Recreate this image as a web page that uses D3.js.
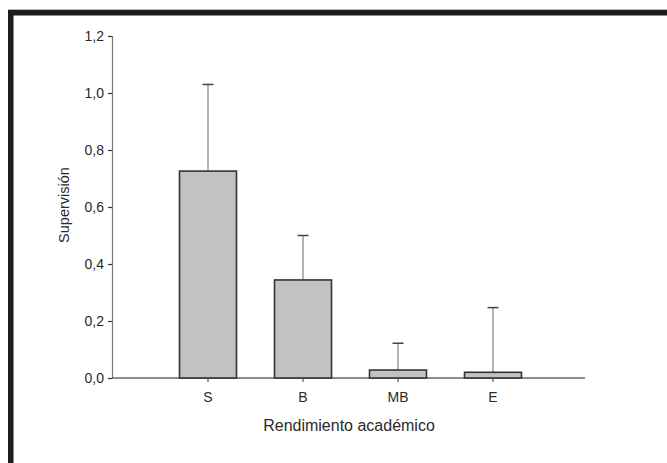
<!DOCTYPE html>
<html><head><meta charset="utf-8">
<script src="https://cdn.jsdelivr.net/npm/d3@7"></script>
<style>
html,body{margin:0;padding:0;background:#fff;}
svg{display:block;font-family:Arial,"Liberation Sans",Helvetica,sans-serif;}
</style></head>
<body>
<svg id="chart" width="667" height="463"></svg>
<script>
const categories = ["S", "B", "MB", "E"];
const means = [0.726, 0.344, 0.028, 0.020];
const upperErrors = [1.03, 0.50, 0.122, 0.247];
const yTicks = [0, 0.2, 0.4, 0.6, 0.8, 1.0, 1.2];
const yTitle = "Supervisión";
const xTitle = "Rendimiento académico";

const svg = d3.select("#chart");

// frame
svg.append("rect").attr("x", 10.75).attr("y", 12.75).attr("width", 700).attr("height", 500)
  .attr("fill", "none").attr("stroke", "#1e1c1c").attr("stroke-width", 5.5);
svg.append("line").attr("x1", 8).attr("x2", 667).attr("y1", 9.5).attr("y2", 9.5)
  .attr("stroke", "#bbb").attr("stroke-width", 1);

const y = d3.scaleLinear().domain([0, 1.2]).range([378, 36]);
const x = d3.scaleBand().domain(categories).range([160.5, 540.5]).paddingInner(0.4).paddingOuter(0.2);

const fmt = d => d3.format(".1f")(d).replace(".", ",");

// y axis
const yAxis = svg.append("g").attr("transform", "translate(112,0)")
  .call(d3.axisLeft(y).tickValues(yTicks).tickFormat(fmt).tickSize(4).tickPadding(4));
yAxis.select(".domain").attr("stroke", "#777").attr("stroke-width", 1.2);
yAxis.selectAll(".tick line").attr("stroke", "#333").attr("stroke-width", 1.2);
yAxis.selectAll(".tick text").attr("fill", "#2a2a2a").attr("font-size", 14);

// x axis line
svg.append("line").attr("x1", 112).attr("x2", 585).attr("y1", y(0)).attr("y2", y(0))
  .attr("stroke", "#666").attr("stroke-width", 1.3);

// bars
const g = svg.append("g");
categories.forEach((c, i) => {
  const cx = x(c) + x.bandwidth() / 2;
  g.append("line").attr("x1", cx).attr("x2", cx).attr("y1", y(means[i])).attr("y2", y(upperErrors[i]))
    .attr("stroke", "#9a9a9a").attr("stroke-width", 1.5);
  g.append("line").attr("x1", cx - 5.5).attr("x2", cx + 5.5).attr("y1", y(upperErrors[i])).attr("y2", y(upperErrors[i]))
    .attr("stroke", "#444").attr("stroke-width", 1.5);
  g.append("rect").attr("x", x(c)).attr("y", y(means[i])).attr("width", x.bandwidth())
    .attr("height", y(0) - y(means[i]))
    .attr("fill", "#c2c2c2").attr("stroke", "#333").attr("stroke-width", 1.6);
  g.append("line").attr("x1", cx).attr("x2", cx).attr("y1", y(0)).attr("y2", y(0) + 4)
    .attr("stroke", "#555").attr("stroke-width", 1.2);
  g.append("text").attr("x", cx).attr("y", 402).attr("text-anchor", "middle")
    .attr("font-size", 14).attr("fill", "#2a2a2a").text(c);
});

// titles
svg.append("text").attr("x", 349).attr("y", 431).attr("text-anchor", "middle")
  .attr("font-size", 16).attr("fill", "#2a2a2a").text(xTitle);
svg.append("text").attr("transform", "translate(69,205) rotate(-90)").attr("text-anchor", "middle")
  .attr("font-size", 14.5).attr("fill", "#2a2a2a").text(yTitle);
</script>
</body></html>
